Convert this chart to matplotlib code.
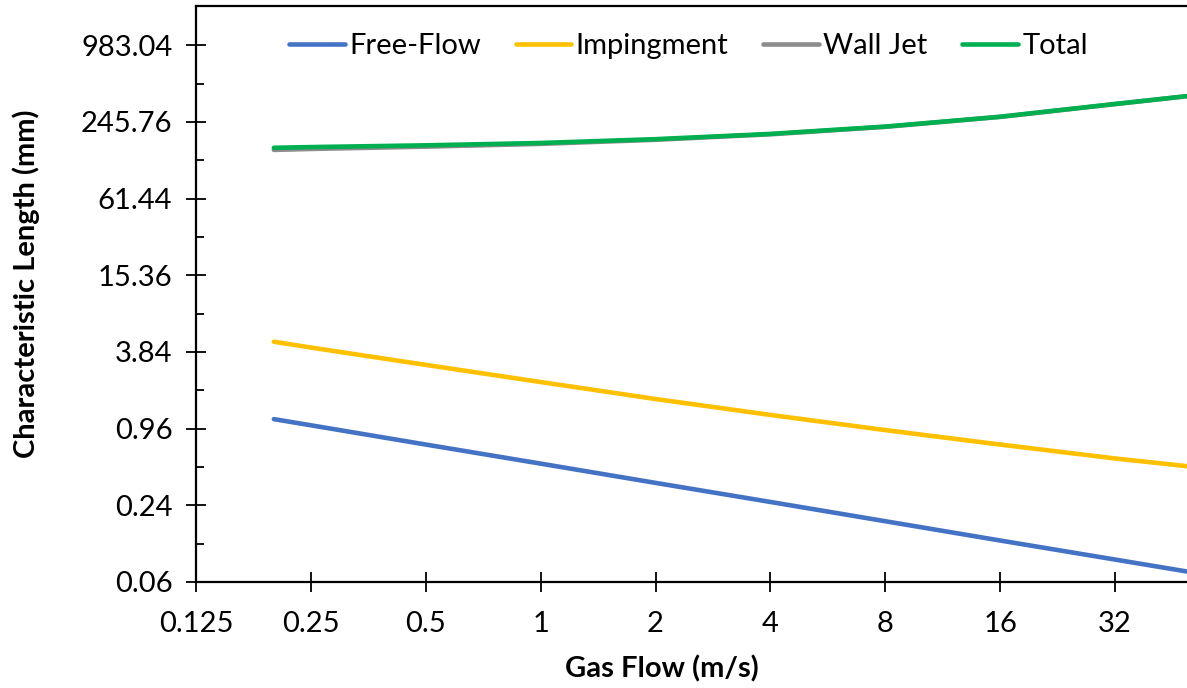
import matplotlib.pyplot as plt
import matplotlib.ticker as ticker

# gas flow (m/s) and characteristic lengths (mm)
gas_flow = [0.2, 0.25, 0.5, 1, 2, 4, 8, 16, 32, 49.4]
free_flow = [1.14, 1.02, 0.72, 0.51, 0.36, 0.255, 0.18, 0.127, 0.09, 0.0725]
impingment = [4.62, 4.16, 3.04, 2.23, 1.64, 1.23, 0.935, 0.72, 0.56, 0.487]
wall_jet = [148.2, 150.8, 157.2, 165.3, 178.0, 196.5, 224.9, 269.2, 339.4, 391.4]
total = [154.0, 156.0, 161.0, 168.0, 180.0, 198.0, 226.0, 270.0, 340.0, 392.0]

x_ticks = [0.125, 0.25, 0.5, 1, 2, 4, 8, 16, 32]
x_labels = ["0.125", "0.25", "0.5", "1", "2", "4", "8", "16", "32"]
y_ticks = [0.06, 0.24, 0.96, 3.84, 15.36, 61.44, 245.76, 983.04]
y_labels = ["0.06", "0.24", "0.96", "3.84", "15.36", "61.44", "245.76", "983.04"]
y_minor = [0.12, 0.48, 1.92, 7.68, 30.72, 122.88, 491.52]

plt.rcParams['font.family'] = ['Lato', 'DejaVu Sans']

fig = plt.figure(figsize=(11.87, 6.88), dpi=100)
ax = fig.add_axes([0.1651, 0.1541, 0.8349, 0.8372])

ax.plot(gas_flow, free_flow, color='#4472C4', lw=3.3, label='Free-Flow', solid_capstyle='round')
ax.plot(gas_flow, impingment, color='#FFC000', lw=3.3, label='Impingment', solid_capstyle='round')
ax.plot(gas_flow, wall_jet, color='#8C8C8C', lw=3.3, label='Wall Jet', solid_capstyle='round')
ax.plot(gas_flow, total, color='#00B050', lw=3.3, label='Total', solid_capstyle='round')

ax.set_xscale('log', base=2)
ax.set_yscale('log', base=2)
ax.set_xlim(0.125, 49.4)
ax.set_ylim(0.06, 2000)

ax.set_xticks(x_ticks, x_labels)
ax.set_yticks(y_ticks, y_labels)
ax.xaxis.set_minor_locator(ticker.NullLocator())
ax.yaxis.set_minor_locator(ticker.FixedLocator(y_minor))
ax.yaxis.set_minor_formatter(ticker.NullFormatter())

ax.tick_params(axis='both', which='major', direction='inout', length=14, width=1.3,
               labelsize=21)
ax.tick_params(axis='x', which='major', pad=14)
ax.tick_params(axis='y', which='major', pad=10)
ax.tick_params(axis='y', which='minor', direction='in', length=6, width=1.3)

for side in ['left', 'bottom', 'top']:
    ax.spines[side].set_linewidth(1.6)
ax.spines['right'].set_visible(False)

ax.set_xlabel('Gas Flow (m/s)', fontsize=21, fontweight='bold')
ax.set_ylabel('Characteristic Length (mm)', fontsize=21, fontweight='bold')
ax.xaxis.set_label_coords(0.470, -0.127)
ax.yaxis.set_label_coords(-0.157, 0.517)

ax.legend(loc='center', bbox_to_anchor=(0.497, 0.931), ncol=4, frameon=False,
          fontsize=21, handlelength=1.9, handletextpad=0.15, columnspacing=1.2)

fig.savefig('out.png', dpi=100)
